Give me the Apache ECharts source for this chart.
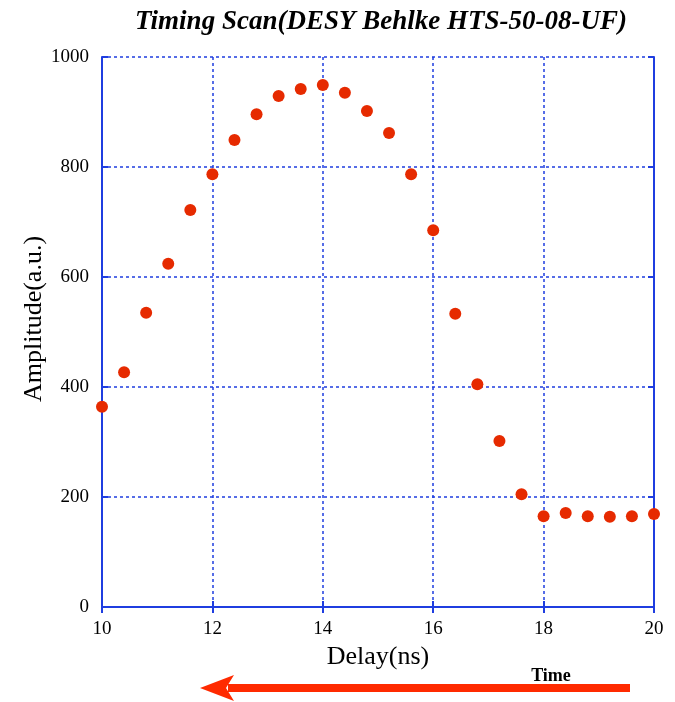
<!DOCTYPE html>
<html><head><meta charset="utf-8">
<script src="https://cdn.jsdelivr.net/npm/echarts@6/dist/echarts.min.js"></script>
<style>html,body{margin:0;padding:0;background:#fff}#c{width:675px;height:702px}</style>
</head><body><div id="c"></div>
<script>
const delay = [10,10.4,10.8,11.2,11.6,12,12.4,12.8,13.2,13.6,14,14.4,14.8,15.2,15.6,16,16.4,16.8,17.2,17.6,18,18.4,18.8,19.2,19.6,20];
const amplitude = [364,427,535,624,722,787,849,896,929,942,949,935,902,862,787,685,533,405,302,205,165,171,165,164,165,169];
const xTicks = [10,12,14,16,18,20];
const yTicks = [0,200,400,600,800,1000];

const chart = echarts.init(document.getElementById('c'));
const blue = '#1f3ee0';
const font = 'Liberation Serif';
chart.setOption({
  animation: false,
  title: {text: 'Timing Scan(DESY Behlke HTS-50-08-UF)', left: 376, top: 4, textAlign: 'center',
    textStyle: {fontFamily: font, fontStyle: 'italic', fontWeight: 'bold', fontSize: 27, color: '#000'}},
  grid: {left: 102, right: 21, top: 57, bottom: 95},
  xAxis: [{
    type: 'value', min: 10, max: 20, interval: 2,
    name: 'Delay(ns)', nameLocation: 'middle', nameGap: 34,
    nameTextStyle: {fontFamily: font, fontSize: 26, color: '#000'},
    axisLine: {lineStyle: {color: blue, width: 2}},
    axisTick: {inside: true, length: 6, lineStyle: {color: blue, width: 2}},
    axisLabel: {fontFamily: font, fontSize: 19, color: '#000', margin: 13, formatter: v => String(v)},
    splitLine: {show: true, lineStyle: {color: blue, type: [3, 3], width: 1.5}}
  }, {
    type: 'value', min: 10, max: 20, interval: 2, position: 'top',
    axisLine: {show: true, lineStyle: {color: blue, width: 2}},
    axisTick: {show: true, inside: true, length: 6, lineStyle: {color: blue, width: 2}},
    axisLabel: {show: false}, splitLine: {show: false}
  }],
  yAxis: [{
    type: 'value', min: 0, max: 1000, interval: 200,
    name: 'Amplitude(a.u.)', nameLocation: 'middle', nameGap: 55, nameRotate: 90, nameMoveOverlap: false,
    nameTextStyle: {fontFamily: font, fontSize: 26, color: '#000', padding: [0, 0, 0, 26]},
    axisLine: {show: true, lineStyle: {color: blue, width: 2}},
    axisTick: {show: true, inside: true, length: 6, lineStyle: {color: blue, width: 2}},
    axisLabel: {fontFamily: font, fontSize: 19, color: '#000', margin: 13, formatter: v => String(v)},
    splitLine: {show: true, lineStyle: {color: blue, type: [3, 3], width: 1.5}}
  }, {
    type: 'value', min: 0, max: 1000, interval: 200, position: 'right',
    axisLine: {show: true, lineStyle: {color: blue, width: 2}},
    axisTick: {show: true, inside: true, length: 6, lineStyle: {color: blue, width: 2}},
    axisLabel: {show: false}, splitLine: {show: false}
  }],
  series: [{
    type: 'scatter', symbol: 'circle', symbolSize: 12,
    itemStyle: {color: '#e62a00', opacity: 1},
    data: delay.map((d, i) => [d, amplitude[i]]),
    z: 5
  }],
  graphic: [
    {type: 'rect', shape: {x: 228, y: 684, width: 402, height: 8}, style: {fill: '#ff2a00'}},
    {type: 'polygon', shape: {points: [[200, 688], [234, 675], [226, 688], [234, 701]]}, style: {fill: '#ff2a00'}},
    {type: 'text', style: {text: 'Time', x: 551, y: 676, textAlign: 'center', textVerticalAlign: 'middle',
      font: 'bold 18px "Liberation Serif"', fill: '#000'}}
  ]
});
</script></body></html>
